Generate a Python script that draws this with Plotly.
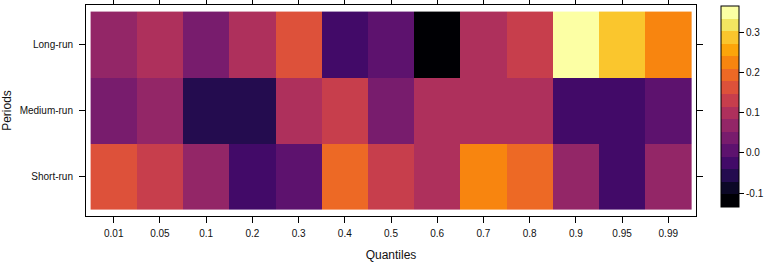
import plotly.graph_objects as go

quantiles = ["0.01", "0.05", "0.1", "0.2", "0.3", "0.4", "0.5", "0.6", "0.7", "0.8", "0.9", "0.95", "0.99"]
periods = ["Short-run", "Medium-run", "Long-run"]

short_run = [0.163, 0.131, 0.069, -0.025, 0.006, 0.194, 0.131, 0.100, 0.225, 0.194, 0.069, -0.025, 0.069]
medium_run = [0.037, 0.069, -0.057, -0.057, 0.100, 0.131, 0.037, 0.100, 0.100, 0.100, -0.025, -0.025, 0.006]
long_run = [0.069, 0.100, 0.037, 0.100, 0.163, -0.025, 0.006, -0.135, 0.100, 0.131, 0.366, 0.288, 0.225]

cbar_ticks = [-0.1, 0.0, 0.1, 0.2, 0.3]
cbar_labels = ["-0.1", "0.0", "0.1", "0.2", "0.3"]

zmin, zmax = -0.135, 0.366
inferno16 = ["#000004", "#0C0826", "#240C4F", "#420A68", "#5D126E", "#781C6D", "#932667", "#AE305C",
             "#C73E4C", "#DD513A", "#ED6925", "#F8850F", "#FCA50A", "#FAC62D", "#F2E661", "#FCFFA4"]
n = len(inferno16)
colorscale = []
for i, c in enumerate(inferno16):
    colorscale.append([i / n, c])
    colorscale.append([(i + 1) / n, c])

fig = go.Figure(go.Heatmap(
    x=quantiles, y=periods, z=[short_run, medium_run, long_run],
    zmin=zmin, zmax=zmax, colorscale=colorscale,
    colorbar=dict(
        x=1.041, xanchor="left", y=0.995, yanchor="top",
        xpad=0, ypad=0,
        thickness=18, len=201, lenmode="pixels",
        outlinecolor="black", outlinewidth=1,
        tickvals=cbar_ticks, ticktext=cbar_labels,
        ticks="outside", ticklen=5, tickcolor="black",
        tickfont=dict(family="Liberation Sans", size=10, color="#111"),
    ),
))

fig.update_layout(
    width=764, height=263,
    margin=dict(l=86, r=68, t=5, b=47, autoexpand=False),
    paper_bgcolor="white", plot_bgcolor="white",
    font=dict(family="Liberation Sans", size=10, color="#111"),
)
fig.update_xaxes(
    range=[-0.6, 12.6], showline=True, linecolor="black", linewidth=1, mirror="allticks",
    ticks="outside", ticklen=6, tickcolor="black", showgrid=False, zeroline=False,
    automargin=False, tickfont=dict(size=10), ticklabelstandoff=2,
    title=dict(text="Quantiles", font=dict(size=12), standoff=12),
)
fig.update_yaxes(
    range=[-0.6, 2.6], showline=True, linecolor="black", linewidth=1, mirror="allticks",
    ticks="outside", ticklen=6, tickcolor="black", showgrid=False, zeroline=False,
    automargin=False, tickfont=dict(size=10), ticklabelstandoff=4,
    title=dict(text="Periods", font=dict(size=12), standoff=8),
)

fig.write_html("out.html", config={"displayModeBar": False},
               post_script="document.body.style.margin='0';")
